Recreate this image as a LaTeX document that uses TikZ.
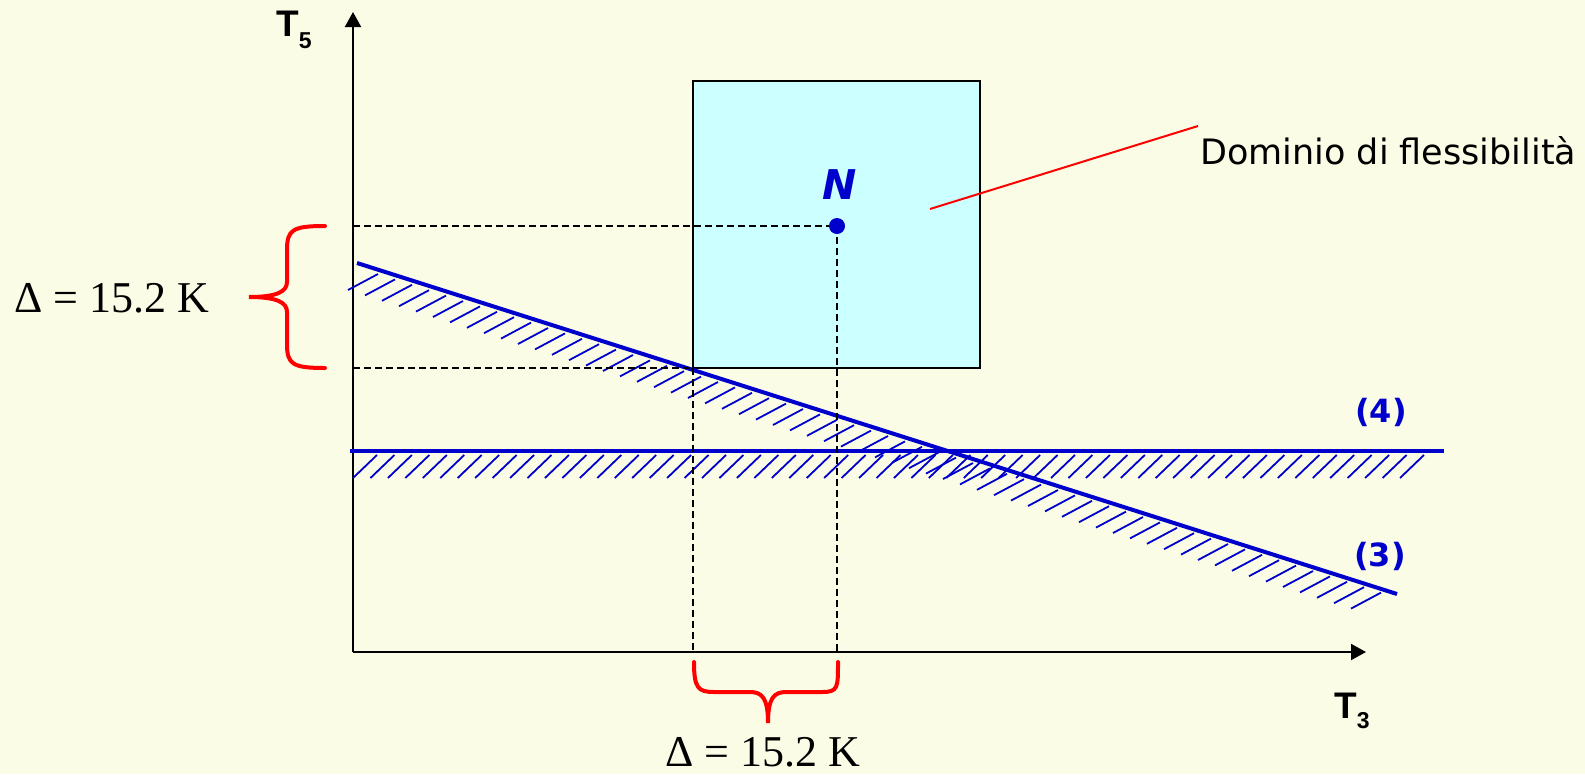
\documentclass[tikz,border=0pt]{standalone}
\usepackage{fontspec}
\setmainfont{Liberation Serif}
\newfontfamily\labelfont{DejaVu Sans}
\newfontfamily\axisfont{Liberation Sans}
\usetikzlibrary{arrows.meta}

\definecolor{bgyellow}{RGB}{251,252,230}
\definecolor{domcyan}{RGB}{204,255,255}
\definecolor{cstrblue}{RGB}{0,0,204}

\tikzset{
  axis/.style={line width=2pt, -{Triangle[length=15pt,width=16pt]}},
  cstr/.style={cstrblue, line width=4pt},
  hatch/.style={cstrblue, line width=1.8pt},
  guide/.style={line width=1.4pt, dash pattern=on 7pt off 4pt},
  brace/.style={red, line width=4pt, line cap=round},
  numlbl/.style={font=\fontsize{44}{50}\selectfont},
  axislbl/.style={anchor=base west, inner sep=0pt, font=\axisfont\bfseries\fontsize{37}{40}\selectfont},
  cstrlbl/.style={cstrblue, font=\labelfont\bfseries\fontsize{32}{36}\selectfont},
}

\begin{document}
\begin{tikzpicture}[x=1pt, y=-1pt]
  % Background and frame of the picture
  \fill[bgyellow] (0,0) rectangle (1585,774);
  \useasboundingbox (0,0) rectangle (1585,774);

  % Origin and axis ends
  \coordinate (O) at (353,652);
  \coordinate (Xend) at (1366,652);
  \coordinate (Yend) at (353,12);

  % Flexibility domain
  \draw[fill=domcyan, line width=2pt] (693,81) rectangle (980,368);
  \coordinate (Dl) at (693,368);   % lower left corner of the domain

  % Nominal point N
  \coordinate (N) at (837,226);

  % Axes
  \draw[axis] (O) -- (Xend);
  \draw[axis] (O) -- (Yend);

  % Constraint (4): horizontal line with hatching below
  \coordinate (C4a) at (350,451);
  \coordinate (C4b) at (1444,451);
  \foreach \i in {0,...,60}
    \draw[hatch] ({353+17.45*\i},478) -- ++(24,-23);
  \draw[cstr] (C4a) -- (C4b);

  % Constraint (3): sloping line with hatching below
  \coordinate (C3a) at (357,263);
  \coordinate (C3b) at (1397,594);
  \foreach \i in {0,...,59}
    \draw[hatch] ({348+17*\i},{290+5.4*\i}) -- ++(30,-16);
  \draw[cstr] (C3a) -- (C3b);

  % Dashed guides
  \draw[guide] (O |- N) -- (N);
  \draw[guide] (O |- Dl) -- (Dl);
  \draw[guide] (Dl) -- (Dl |- O);
  \draw[guide] (N) -- (N |- O);

  % Point N
  \fill[cstrblue] (N) circle (8pt);
  \node[cstrblue, anchor=base, font=\labelfont\bfseries\itshape\fontsize{41}{45}\selectfont]
    (lblN) at (840,199) {N};

  % Braces
  \draw[brace] (325,226) .. controls (292,226) and (287,230) .. (287,250)
    -- (287,282) .. controls (287,292) and (276,297) .. (249,297)
    .. controls (276,297) and (287,302) .. (287,312)
    -- (287,344) .. controls (287,364) and (292,368) .. (325,368);
  \draw[brace] (694,662) .. controls (694,688) and (698,692) .. (714,692)
    -- (750,692) .. controls (762,692) and (768,698) .. (768,723)
    .. controls (768,698) and (774,692) .. (786,692)
    -- (822,692) .. controls (838,692) and (838,688) .. (838,662);

  % Delta labels
  \node[numlbl, anchor=base] (dT5) at (112,312) {Δ = 15.2 K};
  \node[numlbl, anchor=base] (dT3) at (763,766) {Δ = 15.2 K};

  % Axis labels
  \node[axislbl] (lblT5) at (276,36) {T\raisebox{-12pt}{\fontsize{23}{24}\selectfont 5}};
  \node[axislbl] (lblT3) at (1334,718) {T\raisebox{-10pt}{\fontsize{23}{24}\selectfont 3}};

  % Constraint labels
  \node[cstrlbl] (lbl4) at (1381,412) {(4)};
  \node[cstrlbl] (lbl3) at (1380,556) {(3)};

  % Domain label with pointer
  \node[anchor=base west, inner sep=0pt, font=\labelfont\fontsize{35}{40}\selectfont]
    (lblDom) at (1200,164) {Dominio di flessibilità};
  \coordinate (ptr) at (930,209);
  \draw[red, line width=2pt] (ptr) -- (1198,126);
\end{tikzpicture}
\end{document}
